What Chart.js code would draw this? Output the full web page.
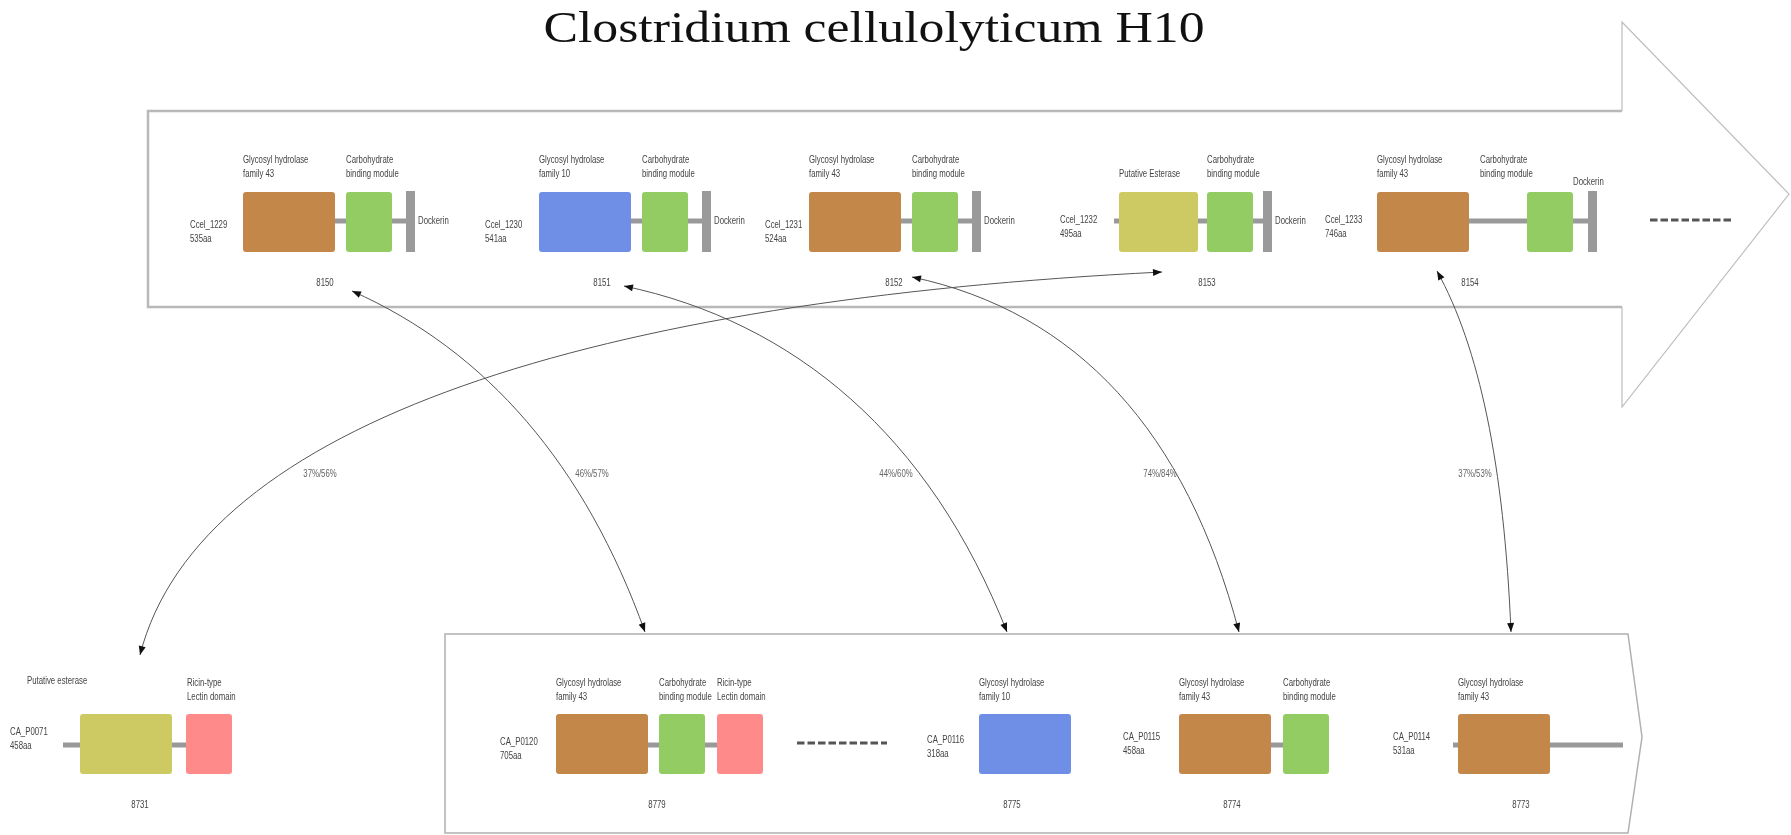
<!DOCTYPE html>
<html>
<head>
<meta charset="utf-8">
<script src="https://cdn.jsdelivr.net/npm/chart.js@4.4.1/dist/chart.umd.min.js"></script>
<style>
  html, body { margin: 0; padding: 0; background: #fff; }
  #wrap { width: 1791px; height: 835px; position: relative; }
</style>
</head>
<body>
<div id="wrap"><canvas id="diagram"></canvas></div>
<script>
// data
const title = 'Clostridium cellulolyticum H10';
const topGenes = ['Ccel_1229', 'Ccel_1230', 'Ccel_1231', 'Ccel_1232', 'Ccel_1233'];
const topLengths = ['535aa', '541aa', '524aa', '495aa', '746aa'];
const topIds = ['8150', '8151', '8152', '8153', '8154'];
const topDomains = [
    ['GH43', 'CBM', 'DOC'],
    ['GH10', 'CBM', 'DOC'],
    ['GH43', 'CBM', 'DOC'],
    ['EST', 'CBM', 'DOC'],
    ['GH43', 'CBM', 'DOC']
];
const bottomGenes = ['CA_P0071', 'CA_P0120', 'CA_P0116', 'CA_P0115', 'CA_P0114'];
const bottomLengths = ['458aa', '705aa', '318aa', '458aa', '531aa'];
const bottomIds = ['8731', '8779', '8775', '8774', '8773'];
const bottomDomains = [
    ['ESTb', 'RICIN'],
    ['GH43', 'CBM', 'RICIN'],
    ['GH10'],
    ['GH43', 'CBM'],
    ['GH43']
];
const linkTop = [3, 0, 1, 2, 4];
const linkBottom = [0, 1, 2, 3, 4];
const identities = ['37%/56%', '46%/57%', '44%/60%', '74%/84%', '37%/53%'];

const domainNames = {
    GH43: ['Glycosyl hydrolase', 'family 43'],
    GH10: ['Glycosyl hydrolase', 'family 10'],
    CBM: ['Carbohydrate', 'binding module'],
    EST: ['Putative Esterase'],
    ESTb: ['Putative esterase'],
    RICIN: ['Ricin-type', 'Lectin domain'],
    DOC: ['Dockerin']
};
const domainColors = {
    GH43: '#c4874a', GH10: '#6f8ee6', CBM: '#93cc62', EST: '#cdc963',
    ESTb: '#cdc963', RICIN: '#ff8a8a', DOC: '#9a9a9a'
};

// layout (positions in figure units)
const topRow = { boxTop: 192, boxBot: 252, lineY: 221, dom1: 160, dom2: 174, single: 174, numY: 283 };
const bottomRow = { boxTop: 714, boxBot: 774, lineY: 745, dom1: 683, dom2: 697, single: 681, numY: 805 };
const topLayout = [
    { name: [190, 225], line: [334, 410], boxes: [[243, 92], [346, 46], [406, 9]], doc: [418, 221], num: 325 },
    { name: [485, 225], line: [631, 706], boxes: [[539, 92], [642, 46], [702, 9]], doc: [714, 221], num: 602 },
    { name: [765, 225], line: [901, 976], boxes: [[809, 92], [912, 46], [972, 9]], doc: [984, 221], num: 894 },
    { name: [1060, 220], line: [1114, 1268], boxes: [[1119, 79], [1207, 46], [1263, 9]], doc: [1275, 221], num: 1207 },
    { name: [1325, 220], line: [1468, 1592], boxes: [[1377, 92], [1527, 46], [1588, 9]], doc: [1573, 182], num: 1470, labelX: [1377, 1480] }
];
const bottomLayout = [
    { name: [10, 732], line: [63, 232], boxes: [[80, 92], [186, 46]], num: 140, labelX: [27, 187] },
    { name: [500, 742], line: [647, 717], boxes: [[556, 92], [659, 46], [717, 46]], num: 657 },
    { name: [927, 740], line: null, boxes: [[979, 92]], num: 1012 },
    { name: [1123, 737], line: [1270, 1283], boxes: [[1179, 92], [1283, 46]], num: 1232 },
    { name: [1393, 737], line: [1453, 1623], boxes: [[1458, 92]], num: 1521 }
];
const dashRuns = [[1650, 1733, 220], [797, 887, 743]];
const linkPaths = [
    [[1162, 272], [600, 300], [200, 420], [140, 655]],
    [[352, 291], [487, 351], [585, 465], [645, 632]],
    [[624, 286], [795, 322], [930, 436], [1007, 632]],
    [[912, 277], [1077, 312], [1186, 431], [1239, 632]],
    [[1437, 271], [1479, 347], [1504, 464], [1511, 632]]
];
const linkLabels = [[320, 474], [592, 474], [896, 474], [1160, 474], [1475, 474]];

const smallFont = '10px "Liberation Sans", Arial, sans-serif';

// narrow label text, like the condensed face of the original
function label(ctx, s, x, y, align) {
    ctx.save();
    ctx.translate(x, y);
    ctx.scale(0.78, 1);
    ctx.textAlign = align || 'left';
    ctx.fillText(s, 0, 0);
    ctx.restore();
}

function arrowHead(ctx, tip, from) {
    const a = Math.atan2(tip[1] - from[1], tip[0] - from[0]);
    ctx.beginPath();
    ctx.moveTo(tip[0], tip[1]);
    ctx.lineTo(tip[0] - 9 * Math.cos(a) + 3.5 * Math.sin(a), tip[1] - 9 * Math.sin(a) - 3.5 * Math.cos(a));
    ctx.lineTo(tip[0] - 9 * Math.cos(a) - 3.5 * Math.sin(a), tip[1] - 9 * Math.sin(a) + 3.5 * Math.cos(a));
    ctx.closePath();
    ctx.fill();
}

function drawGene(ctx, X, Y, name, len, id, domains, lay, row) {
    ctx.fillStyle = '#999';
    if (lay.line) ctx.fillRect(X(lay.line[0]), Y(row.lineY) - 2.5, X(lay.line[1]) - X(lay.line[0]), 5);
    ctx.font = smallFont;
    ctx.textBaseline = 'middle';
    domains.forEach((d, k) => {
        const b = lay.boxes[k];
        ctx.fillStyle = domainColors[d];
        if (d === 'DOC') {
            ctx.fillRect(X(b[0]), Y(row.boxTop - 1), X(b[0] + b[1]) - X(b[0]), Y(row.boxBot) - Y(row.boxTop - 1));
        } else {
            ctx.beginPath();
            ctx.roundRect(X(b[0]), Y(row.boxTop), X(b[0] + b[1]) - X(b[0]), Y(row.boxBot) - Y(row.boxTop), 3);
            ctx.fill();
        }
        const lines = domainNames[d];
        const lx = lay.labelX && lay.labelX[k] !== undefined ? lay.labelX[k] : b[0];
        ctx.fillStyle = '#444';
        if (d === 'DOC') {
            label(ctx, lines[0], X(lay.doc[0]), Y(lay.doc[1]));
        } else if (lines.length === 1) {
            label(ctx, lines[0], X(lx), Y(row.single));
        } else {
            label(ctx, lines[0], X(lx), Y(row.dom1));
            label(ctx, lines[1], X(lx), Y(row.dom2));
        }
    });
    ctx.fillStyle = '#444';
    label(ctx, name, X(lay.name[0]), Y(lay.name[1]));
    label(ctx, len, X(lay.name[0]), Y(lay.name[1] + 14));
    label(ctx, id, X(lay.num), Y(row.numY), 'center');
}

const diagramPlugin = {
    id: 'diagram',
    afterDatasetsDraw(chart) {
        const ctx = chart.ctx;
        const X = v => chart.scales.x.getPixelForValue(v);
        const Y = v => chart.scales.y.getPixelForValue(v);
        ctx.save();

        // title
        ctx.save();
        ctx.fillStyle = '#111';
        ctx.font = '45px "Liberation Serif", "DejaVu Serif", serif';
        ctx.textAlign = 'center';
        ctx.textBaseline = 'alphabetic';
        ctx.translate(X(874), Y(42));
        ctx.scale(1.15, 1);
        ctx.fillText(title, 0, 0);
        ctx.restore();

        // big genome arrow (top)
        ctx.strokeStyle = '#b8b8b8';
        ctx.lineWidth = 2.5;
        ctx.beginPath();
        ctx.moveTo(X(1622), Y(111)); ctx.lineTo(X(148), Y(111)); ctx.lineTo(X(148), Y(307)); ctx.lineTo(X(1622), Y(307));
        ctx.stroke();
        ctx.lineWidth = 1.2;
        ctx.strokeStyle = '#bdbdbd';
        ctx.beginPath();
        ctx.moveTo(X(1622), Y(111)); ctx.lineTo(X(1622), Y(22)); ctx.lineTo(X(1789), Y(194));
        ctx.lineTo(X(1622), Y(407)); ctx.lineTo(X(1622), Y(307));
        ctx.stroke();

        // bottom genome box
        ctx.strokeStyle = '#b0b0b0';
        ctx.lineWidth = 1.5;
        ctx.beginPath();
        ctx.moveTo(X(445), Y(634)); ctx.lineTo(X(1628), Y(634)); ctx.lineTo(X(1642), Y(737));
        ctx.lineTo(X(1628), Y(833)); ctx.lineTo(X(445), Y(833)); ctx.closePath();
        ctx.stroke();

        topGenes.forEach((g, i) => drawGene(ctx, X, Y, g, topLengths[i], topIds[i], topDomains[i], topLayout[i], topRow));
        bottomGenes.forEach((g, i) => drawGene(ctx, X, Y, g, bottomLengths[i], bottomIds[i], bottomDomains[i], bottomLayout[i], bottomRow));

        // dashed continuation marks
        ctx.strokeStyle = '#555';
        ctx.lineWidth = 3;
        ctx.setLineDash([7.5, 3]);
        dashRuns.forEach(r => {
            ctx.beginPath();
            ctx.moveTo(X(r[0]), Y(r[2])); ctx.lineTo(X(r[1]), Y(r[2]));
            ctx.stroke();
        });
        ctx.setLineDash([]);

        // homology links
        ctx.strokeStyle = '#555';
        ctx.fillStyle = '#111';
        ctx.lineWidth = 1;
        identities.forEach((txt, i) => {
            const p = linkPaths[i].map(q => [X(q[0]), Y(q[1])]);
            ctx.beginPath();
            ctx.moveTo(p[0][0], p[0][1]);
            ctx.bezierCurveTo(p[1][0], p[1][1], p[2][0], p[2][1], p[3][0], p[3][1]);
            ctx.stroke();
            arrowHead(ctx, p[0], p[1]);
            arrowHead(ctx, p[3], p[2]);
        });
        ctx.font = smallFont;
        ctx.fillStyle = '#666';
        ctx.textBaseline = 'middle';
        identities.forEach((txt, i) => label(ctx, txt, X(linkLabels[i][0]), Y(linkLabels[i][1]), 'center'));
        ctx.restore();
    }
};

const chart = new Chart(document.getElementById('diagram'), {
    type: 'scatter',
    data: { datasets: [] },
    options: {
        responsive: true,
        maintainAspectRatio: false,
        animation: false,
        layout: { padding: 0 },
        plugins: { legend: { display: false }, tooltip: { enabled: false } },
        scales: {
            x: { type: 'linear', min: 0, max: 1791, display: false },
            y: { type: 'linear', min: 0, max: 835, reverse: true, display: false }
        }
    },
    plugins: [diagramPlugin]
});
</script>
</body>
</html>
